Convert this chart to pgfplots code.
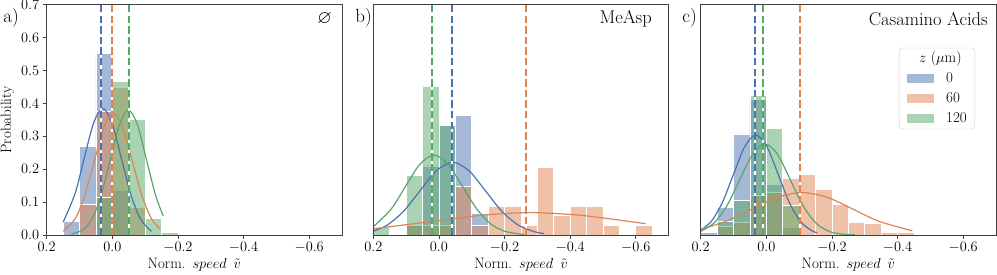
\documentclass[border=0pt]{standalone}
\usepackage{pgfplots}
\pgfplotsset{compat=1.18}
\usepackage{amssymb}
\definecolor{sbblue}{RGB}{76,114,176}
\definecolor{sborange}{RGB}{221,132,82}
\definecolor{sbgreen}{RGB}{85,168,104}
\pgfplotsset{
 panel/.style={
  scale only axis, width=295.3pt, height=230.3pt,
  x dir=reverse, xmin=-0.7, xmax=0.2, ymin=0, ymax=0.7,
  xtick={0.2,0,-0.2,-0.4,-0.6},
  /pgf/number format/fixed, /pgf/number format/fixed zerofill, /pgf/number format/precision=1,
  tick label style={font=\fontsize{15}{17}\selectfont},
  label style={font=\fontsize{15}{17}\selectfont},
  tick align=outside, xtick pos=bottom, ytick pos=left,
  major tick length=4pt,
  axis line style={black!75, line width=0.8pt},
  every tick/.style={black!75, line width=0.8pt},
  xlabel={Norm.\hspace{7pt}$speed$\hspace{7pt}$\tilde{v}$},
  xlabel style={yshift=2pt},
  axis on top,
 },
 hb/.style={ybar, bar width=0.05, bar shift=0pt, draw=white, line width=0.7pt, fill=#1, fill opacity=0.5, forget plot},
 cv/.style={#1, line width=1.2pt, smooth, forget plot},
 vlw/.style={white, line width=2pt, forget plot},
 vl/.style={#1, line width=2pt, dash pattern=on 7.4pt off 3.2pt, forget plot},
}
\begin{document}
\begin{tikzpicture}
\useasboundingbox (0,0) rectangle (997pt,275pt);
% ---------------- panel a
\begin{axis}[panel, at={(46.7pt,40pt)}, anchor=south west,
  ytick={0,0.1,0.2,0.3,0.4,0.5,0.6,0.7}, ylabel={Probability}]
\addplot[hb=sbblue] coordinates {(0.125,0.04) (0.075,0.27) (0.025,0.553) (-0.025,0.135)};
\addplot[hb=sborange] coordinates {(0.075,0.093) (0.025,0.375) (-0.025,0.448) (-0.075,0.084)};
\addplot[hb=sbgreen] coordinates {(0.025,0.114) (-0.025,0.468) (-0.075,0.352) (-0.125,0.05) (-0.175,0.008)};
\addplot[cv=sbblue] coordinates {(0.15,0.039) (0.1138,0.125) (0.0855,0.2335) (0.0573,0.3398) (0.029,0.385) (0.0008,0.3398) (-0.0275,0.2335) (-0.0558,0.125) (-0.084,0.0521) (-0.1123,0.0169) (-0.12,0.0118)};
\addplot[cv=sborange] coordinates {(0.15,0.0114) (0.113,0.0501) (0.084,0.1201) (0.055,0.2244) (0.026,0.3265) (-0.003,0.37) (-0.032,0.3265) (-0.061,0.2244) (-0.09,0.1201) (-0.119,0.0501) (-0.145,0.0184)};
\addplot[cv=sbgreen] coordinates {(0.125,0.0024) (0.0878,0.0167) (0.0604,0.0514) (0.0331,0.1234) (0.0057,0.2305) (-0.0217,0.3354) (-0.049,0.38) (-0.0764,0.3354) (-0.1037,0.2305) (-0.131,0.1234) (-0.155,0.058)};
\addplot[vlw] coordinates {(0.034,0) (0.034,0.7)};
\addplot[vl=sbblue] coordinates {(0.034,0) (0.034,0.7)};
\addplot[vlw] coordinates {(0,0) (0,0.7)};
\addplot[vl=sborange] coordinates {(0,0) (0,0.7)};
\addplot[vlw] coordinates {(-0.05,0) (-0.05,0.7)};
\addplot[vl=sbgreen] coordinates {(-0.05,0) (-0.05,0.7)};
\end{axis}
% ---------------- panel b
\begin{axis}[panel, at={(373.3pt,40pt)}, anchor=south west, ytick=\empty]
\addplot[hb=sbblue] coordinates {(0.075,0.03) (0.025,0.21) (-0.025,0.333) (-0.075,0.363) (-0.125,0.065)};
\addplot[hb=sborange] coordinates {(0.075,0.029) (0.025,0.029) (-0.025,0.029) (-0.075,0.147) (-0.125,0.029) (-0.175,0.088) (-0.225,0.088) (-0.275,0.029) (-0.325,0.206) (-0.375,0.059) (-0.425,0.088) (-0.475,0.088) (-0.525,0.029) (-0.625,0.029)};
\addplot[hb=sbgreen] coordinates {(0.175,0.022) (0.075,0.18) (0.025,0.453) (-0.025,0.333)};
\addplot[cv=sbblue] coordinates {(0.2,0.0118) (0.158,0.0299) (0.108,0.0718) (0.058,0.134) (0.008,0.195) (-0.042,0.221) (-0.092,0.195) (-0.142,0.134) (-0.192,0.0718) (-0.242,0.0299) (-0.292,0.0097) (-0.32,0.0046)};
\addplot[cv=sborange] coordinates {(0.2,0.0189) (0.02,0.0412) (-0.13,0.06) (-0.28,0.068) (-0.43,0.06) (-0.58,0.0412) (-0.63,0.0344)};
\addplot[cv=sbgreen] coordinates {(0.2,0.0251) (0.1455,0.0789) (0.102,0.1474) (0.0585,0.2144) (0.015,0.243) (-0.0285,0.2144) (-0.072,0.1474) (-0.1155,0.0789) (-0.159,0.0329) (-0.2025,0.0107) (-0.26,0.0016)};
\addplot[vlw] coordinates {(-0.04,0) (-0.04,0.7)};
\addplot[vl=sbblue] coordinates {(-0.04,0) (-0.04,0.7)};
\addplot[vlw] coordinates {(-0.264,0) (-0.264,0.7)};
\addplot[vl=sborange] coordinates {(-0.264,0) (-0.264,0.7)};
\addplot[vlw] coordinates {(0.02,0) (0.02,0.7)};
\addplot[vl=sbgreen] coordinates {(0.02,0) (0.02,0.7)};
\end{axis}
% ---------------- panel c
\begin{axis}[panel, at={(700.7pt,40pt)}, anchor=south west, ytick=\empty,
  legend style={at={(0.929,0.813)}, anchor=north east, draw=black!20, rounded corners=3pt,
    fill=white, fill opacity=0.8, text opacity=1, font=\fontsize{15}{17}\selectfont,
    inner xsep=8pt, inner ysep=3.5pt, row sep=6pt, cells={anchor=west},
    nodes={inner sep=0pt, text height=11pt, text depth=3pt},
    /tikz/every odd column/.append style={column sep=12pt}},
  legend image code/.code={\fill[#1, sharp corners] (0pt,-4.5pt) rectangle (27pt,4.5pt);}]
\addlegendimage{empty legend}\addlegendentry{\hspace*{-27pt}$z$ ($\mu$m)}
\addlegendimage{fill=sbblue, fill opacity=0.5, draw=none}\addlegendentry{0}
\addlegendimage{fill=sborange, fill opacity=0.5, draw=none}\addlegendentry{60}
\addlegendimage{fill=sbgreen, fill opacity=0.5, draw=none}\addlegendentry{120}
\addplot[hb=sbblue] coordinates {(0.175,0.008) (0.125,0.085) (0.075,0.307) (0.025,0.412) (-0.025,0.154) (-0.075,0.022)};
\addplot[hb=sborange] coordinates {(0.125,0.027) (0.075,0.037) (0.025,0.12) (-0.025,0.129) (-0.075,0.172) (-0.125,0.185) (-0.175,0.14) (-0.225,0.092) (-0.275,0.039) (-0.325,0.034) (-0.375,0.007) (-0.425,0.007)};
\addplot[hb=sbgreen] coordinates {(0.125,0.04) (0.075,0.106) (0.025,0.425) (-0.025,0.325) (-0.075,0.09)};
\addplot[cv=sbblue] coordinates {(0.2,0.0144) (0.168,0.0411) (0.134,0.0987) (0.1,0.1844) (0.066,0.2683) (0.032,0.304) (-0.002,0.2683) (-0.036,0.1844) (-0.07,0.0987) (-0.104,0.0411) (-0.138,0.0133) (-0.155,0.0069)};
\addplot[cv=sborange] coordinates {(0.2,0.0175) (0.1225,0.0419) (0.045,0.0782) (-0.0325,0.1138) (-0.11,0.129) (-0.1875,0.1138) (-0.265,0.0782) (-0.3425,0.0419) (-0.445,0.0126)};
\addplot[cv=sbgreen] coordinates {(0.2,0.0109) (0.158,0.0375) (0.1195,0.0899) (0.081,0.168) (0.0425,0.2445) (0.004,0.277) (-0.0345,0.2445) (-0.073,0.168) (-0.1115,0.0899) (-0.15,0.0375) (-0.1885,0.0122) (-0.227,0.0031) (-0.27,0.0005)};
\addplot[vlw] coordinates {(0.036,0) (0.036,0.7)};
\addplot[vl=sbblue] coordinates {(0.036,0) (0.036,0.7)};
\addplot[vlw] coordinates {(-0.103,0) (-0.103,0.7)};
\addplot[vl=sborange] coordinates {(-0.103,0) (-0.103,0.7)};
\addplot[vlw] coordinates {(0.011,0) (0.011,0.7)};
\addplot[vl=sbgreen] coordinates {(0.011,0) (0.011,0.7)};
\end{axis}
% ---------------- panel letters and titles
\node[anchor=east, inner sep=0pt, font=\fontsize{19}{21}\selectfont] at (19pt,257pt) {a)};
\node[anchor=east, inner sep=0pt, font=\fontsize{19}{21}\selectfont] at (372pt,257pt) {b)};
\node[anchor=east, inner sep=0pt, font=\fontsize{19}{21}\selectfont] at (697pt,257pt) {c)};
\node[anchor=east, inner sep=0pt, font=\fontsize{18.5}{21}\selectfont] at (332pt,256pt) {$\varnothing$};
\node[anchor=east, inner sep=0pt, font=\fontsize{18.5}{21}\selectfont] at (652pt,256pt) {MeAsp};
\node[anchor=east, inner sep=0pt, font=\fontsize{18.5}{21}\selectfont] at (988pt,256pt) {Casamino Acids};
\end{tikzpicture}
\end{document}
